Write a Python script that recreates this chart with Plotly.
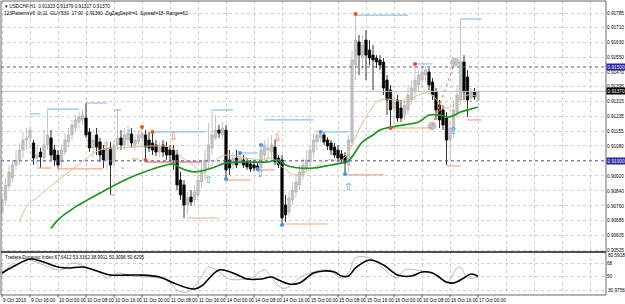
import plotly.graph_objects as go

# ---------------- data (USDCHF H1) ----------------
open_ = [0.90728,0.90792,0.90866,0.90909,0.90978,0.91005,0.91058,0.91111,0.91122,0.91095,
         0.91015,0.91047,0.91015,0.91085,0.91122,0.91058,0.91031,0.90994,0.91047,0.91101,
         0.91138,0.91175,0.91207,0.91218,0.91228,0.91154,0.91069,0.91138,0.91101,0.91058,
         0.91005,0.91069,0.90994,0.91085,0.91122,0.91085,0.91111,0.91143,0.91085,0.91101,
         0.91122,0.91138,0.91111,0.91095,0.91085,0.91047,0.91085,0.91074,0.91058,0.91058,
         0.91031,0.90898,0.90872,0.90765,0.90808,0.90792,0.90819,0.90888,0.90941,0.90994,
         0.91069,0.91122,0.91164,0.91138,0.91164,0.91005,0.90978,0.91015,0.90989,0.91005,
         0.90994,0.90984,0.90978,0.90973,0.90962,0.91031,0.91058,0.91047,0.91074,0.91015,
         0.91005,0.90765,0.90728,0.90792,0.90835,0.90872,0.90925,0.90962,0.90994,0.91047,
         0.91101,0.91122,0.91138,0.91111,0.91095,0.91074,0.91058,0.91037,0.91026,0.90978,
         0.91101,0.91510,0.91633,0.91547,0.91643,0.91590,0.91563,0.91547,0.91537,0.91526,
         0.91430,0.91377,0.91281,0.91324,0.91281,0.91244,0.91271,0.91324,0.91367,0.91404,
         0.91430,0.91457,0.91473,0.91420,0.91367,0.91297,0.91271,0.91228,0.91111,0.91164,
         0.91260,0.91324,0.91526,0.91446,0.91335,0.91367,0.91323]
high = [0.90813,0.90909,0.90978,0.91005,0.91058,0.91095,0.91154,0.91175,0.91186,0.91111,
        0.91085,0.91069,0.91164,0.91276,0.91164,0.91085,0.91058,0.91085,0.91148,0.91175,
        0.91218,0.91244,0.91260,0.91271,0.91308,0.91175,0.91138,0.91175,0.91122,0.91085,
        0.91111,0.91101,0.91111,0.91271,0.91164,0.91175,0.91191,0.91175,0.91138,0.91164,
        0.91180,0.91164,0.91154,0.91154,0.91111,0.91101,0.91111,0.91101,0.91085,0.91085,
        0.91058,0.90941,0.90898,0.90835,0.90845,0.90872,0.90952,0.91005,0.91058,0.91202,
        0.91271,0.91244,0.91191,0.91207,0.91191,0.91058,0.91047,0.91058,0.91042,0.91031,
        0.91015,0.91005,0.91005,0.90994,0.91085,0.91111,0.91122,0.91138,0.91111,0.91031,
        0.91031,0.90819,0.90835,0.90888,0.90925,0.90978,0.91015,0.91058,0.91085,0.91148,
        0.91164,0.91154,0.91154,0.91127,0.91111,0.91095,0.91085,0.91058,0.91047,0.91138,
        0.91590,0.91782,0.91670,0.91670,0.91696,0.91643,0.91617,0.91563,0.91563,0.91547,
        0.91457,0.91404,0.91351,0.91351,0.91324,0.91335,0.91404,0.91430,0.91516,0.91484,
        0.91505,0.91505,0.91494,0.91441,0.91388,0.91324,0.91297,0.91260,0.91218,0.91324,
        0.91404,0.91755,0.91563,0.91484,0.91388,0.91388,0.91379]
low = [0.90696,0.90760,0.90845,0.90888,0.90952,0.90978,0.91015,0.91058,0.91069,0.90978,
       0.90973,0.90962,0.90989,0.91058,0.91005,0.90973,0.90957,0.90962,0.91031,0.91069,
       0.91111,0.91154,0.91175,0.91191,0.91122,0.91047,0.91015,0.91031,0.90994,0.90962,
       0.90952,0.90819,0.90962,0.91058,0.91058,0.91058,0.91085,0.91069,0.91058,0.91085,
       0.91085,0.91005,0.91047,0.91031,0.91026,0.91021,0.91021,0.91005,0.90994,0.90952,
       0.90845,0.90792,0.90696,0.90718,0.90760,0.90765,0.90792,0.90856,0.90898,0.90962,
       0.91031,0.91111,0.91122,0.91111,0.90904,0.90925,0.90952,0.90962,0.90968,0.90962,
       0.90952,0.90941,0.90946,0.90957,0.90952,0.91005,0.91005,0.91005,0.90978,0.90962,
       0.90659,0.90675,0.90702,0.90765,0.90803,0.90845,0.90898,0.90941,0.90962,0.91015,
       0.91058,0.91101,0.91085,0.91058,0.91031,0.91015,0.90994,0.90984,0.90930,0.90941,
       0.91085,0.91430,0.91457,0.91484,0.91430,0.91510,0.91377,0.91494,0.91484,0.91351,
       0.91244,0.91175,0.91191,0.91207,0.91207,0.91218,0.91244,0.91297,0.91324,0.91367,
       0.91388,0.91420,0.91377,0.91324,0.91218,0.91175,0.91164,0.90978,0.90994,0.91122,
       0.91228,0.91297,0.91324,0.91234,0.91313,0.91324,0.91317]
close = [0.90792,0.90872,0.90941,0.90978,0.91005,0.91058,0.91111,0.91122,0.91164,0.91015,
         0.91031,0.91021,0.91085,0.91138,0.91031,0.91005,0.90978,0.91058,0.91111,0.91138,
         0.91191,0.91218,0.91234,0.91244,0.91138,0.91069,0.91111,0.91074,0.91031,0.91005,
         0.91058,0.90978,0.91085,0.91122,0.91085,0.91138,0.91148,0.91095,0.91111,0.91138,
         0.91148,0.91074,0.91069,0.91058,0.91047,0.91074,0.91047,0.91031,0.91031,0.91005,
         0.90872,0.90819,0.90765,0.90803,0.90781,0.90835,0.90898,0.90952,0.91005,0.91085,
         0.91138,0.91164,0.91148,0.91175,0.90952,0.90962,0.91015,0.90978,0.91015,0.90978,
         0.90968,0.90957,0.90962,0.90962,0.91058,0.91085,0.91069,0.91085,0.90994,0.90978,
         0.90696,0.90712,0.90803,0.90845,0.90888,0.90941,0.90978,0.91005,0.91058,0.91111,
         0.91138,0.91143,0.91101,0.91079,0.91058,0.91031,0.91015,0.91005,0.90989,0.91111,
         0.91537,0.91643,0.91563,0.91617,0.91563,0.91547,0.91537,0.91526,0.91510,0.91388,
         0.91324,0.91271,0.91313,0.91228,0.91228,0.91297,0.91351,0.91388,0.91430,0.91457,
         0.91473,0.91484,0.91404,0.91351,0.91271,0.91218,0.91191,0.91111,0.91175,0.91271,
         0.91351,0.91526,0.91367,0.91324,0.91367,0.91340,0.91370]
bars = list(range(len(close)))

# moving averages (sampled)
tan_x = [5, 7, 11, 15, 21, 28, 34, 42, 48, 50, 52, 55, 57, 59, 61, 64, 68, 74, 77, 80, 84,
         89, 93, 97, 99, 103, 108, 112, 115, 119, 122, 125, 127, 129, 131, 134, 136]
tan_ma = [0.90675, 0.90755, 0.90819, 0.90882, 0.90968, 0.91058, 0.91069, 0.91079, 0.91074,
          0.91047, 0.91010, 0.90970, 0.90945, 0.90960, 0.91005, 0.91031, 0.91021, 0.91005,
          0.91015, 0.90968, 0.90925, 0.90962, 0.91005, 0.91005, 0.91047, 0.91202, 0.91324,
          0.91324, 0.91313, 0.91351, 0.91361, 0.91308, 0.91281, 0.91297, 0.91340, 0.91351,
          0.91340]
green_x = [14, 16, 21, 28, 37, 47, 49, 51, 55, 60, 64, 70, 76, 79, 81, 85, 89, 94, 97, 99,
           103, 106, 108, 113, 119, 122, 125, 128, 131, 134, 136]
green_ma = [0.90640, 0.90686, 0.90755, 0.90829, 0.90914, 0.90978, 0.90984, 0.90962, 0.90941,
            0.90962, 0.90989, 0.90994, 0.90994, 0.91005, 0.90978, 0.90962, 0.90962, 0.90978,
            0.90989, 0.91000, 0.91101, 0.91138, 0.91164, 0.91186, 0.91207, 0.91244, 0.91244,
            0.91234, 0.91260, 0.91276, 0.91287]

# swing levels (start bar, end bar, price)
hi_start = [8, 13, 24, 32, 36, 43, 60, 68, 75, 91, 101, 118, 131]
hi_end = [11, 22, 30, 34, 37, 58, 66, 73, 89, 99, 116, 123, 137]
hi_price = [0.91250, 0.91276, 0.91308, 0.91271, 0.91164, 0.91154, 0.91271, 0.91042, 0.91218,
            0.91154, 0.91776, 0.91516, 0.91755]
lo_start = [10, 16, 31, 34, 37, 53, 64, 73, 80, 98, 111, 127, 133]
lo_end = [14, 29, 32, 35, 39, 62, 71, 78, 93, 109, 123, 131, 137]
lo_price = [0.90962, 0.90957, 0.90819, 0.90962, 0.91010, 0.90696, 0.90898, 0.90952, 0.90664,
            0.90925, 0.91175, 0.90973, 0.91218]
red_line_bars = [41, 57]
red_line_price = 0.90994

red_dot_x = [40, 41, 43, 101, 111, 118]
red_dot_y = [0.91180, 0.91005, 0.91154, 0.91782, 0.91175, 0.91516]
blue_dot_x = [64, 68, 73, 74, 80, 91, 98]
blue_dot_y = [0.90904, 0.91042, 0.90957, 0.91085, 0.90659, 0.91154, 0.90930]
up_arrow_x = [58.9, 73.7, 98.9, 128.9]
up_arrow_y = [0.90898, 0.90925, 0.90856, 0.91159]
down_arrow_x = [29.7, 48.9, 78.6, 124.6]
down_arrow_y = [0.91069, 0.91122, 0.91117, 0.91271]
zig_x = [122.9, 129.4]
zig_y = [0.91186, 0.91526]

# Traders Dynamic Index
tdi_sig_x = [0, 3, 8, 11, 16, 19, 23, 28, 31, 39, 45, 49, 53, 55, 57, 62, 66, 70, 74, 77, 79,
             82, 85, 89, 92, 95, 97, 99, 101, 105, 109, 113, 117, 120, 123, 127, 129, 132, 134, 136]
tdi_sig = [55.0, 63.0, 73.8, 71.1, 63.0, 61.7, 63.0, 56.3, 52.3, 52.3, 49.6, 41.5, 34.8, 33.5,
           37.5, 59.0, 55.0, 46.9, 46.9, 49.6, 45.6, 40.2, 41.5, 55.0, 57.7, 56.3, 50.9, 50.9,
           61.7, 72.4, 65.7, 52.3, 50.9, 56.3, 55.0, 42.9, 41.5, 48.3, 53.6, 50.6]
tdi_rsi_x = [0, 3, 5, 8, 12, 17, 20, 24, 28, 30, 33, 37, 47, 50, 53, 57, 59, 62, 65, 71, 75,
             77, 80, 82, 85, 89, 93, 97, 99, 101, 104, 107, 110, 113, 115, 120, 124, 127, 130,
             131, 133, 136]
tdi_rsi = [52.0, 68.4, 75.1, 72.4, 65.7, 59.0, 68.4, 63.0, 55.0, 48.3, 55.0, 50.9, 45.6, 32.1,
           29.4, 49.6, 63.0, 56.3, 46.9, 48.3, 59.0, 48.3, 34.8, 36.2, 48.3, 56.3, 59.0, 48.3,
           55.0, 75.1, 76.5, 69.8, 56.3, 48.3, 59.0, 57.7, 52.3, 41.5, 61.7, 63.0, 48.3, 50.3]
tdi_levels = [68, 50, 32]

price_ticks = [0.91785, 0.91710, 0.91630, 0.91550, 0.91470, 0.91395, 0.91315, 0.91235,
               0.91155, 0.91080, 0.91000, 0.90920, 0.90840, 0.90760, 0.90685, 0.90605, 0.90525]
time_labels = ["9 Oct 2013", "9 Oct 16:00", "10 Oct 00:00", "10 Oct 08:00", "10 Oct 16:00",
               "11 Oct 00:00", "11 Oct 08:00", "11 Oct 16:00", "14 Oct 00:00", "14 Oct 08:00",
               "14 Oct 16:00", "15 Oct 00:00", "15 Oct 08:00", "15 Oct 16:00", "16 Oct 00:00",
               "16 Oct 08:00", "16 Oct 16:00", "17 Oct 00:00"]
label_step = 8
grid_bars = list(range(0, 173, 8))
bid_price = 0.91370
marked_levels = [0.91500, 0.91000]

FONT = "Liberation Sans, Arial, sans-serif"
FS = 4.7

fig = go.Figure()

fig.add_trace(go.Candlestick(
    x=bars, open=open_, high=high, low=low, close=close,
    increasing=dict(line=dict(color="#b8b8b8", width=0.8), fillcolor="#c4c4c4"),
    decreasing=dict(line=dict(color="#000000", width=0.8), fillcolor="#000000"),
    whiskerwidth=0, hoverinfo="skip", showlegend=False, xaxis="x", yaxis="y"))

def seg_xy(starts, ends, prices):
    xs, ys = [], []
    for s, e, p in zip(starts, ends, prices):
        xs += [s, e, None]
        ys += [p, p, None]
    return xs, ys

hx, hy = seg_xy(hi_start, hi_end, hi_price)
fig.add_trace(go.Scatter(x=hx, y=hy, mode="lines", line=dict(color="#8cc0f0", width=1.2),
                         hoverinfo="skip", xaxis="x", yaxis="y"))
lx, ly = seg_xy(lo_start, lo_end, lo_price)
fig.add_trace(go.Scatter(x=lx, y=ly, mode="lines", line=dict(color="#f4a582", width=1.2),
                         hoverinfo="skip", xaxis="x", yaxis="y"))
fig.add_trace(go.Scatter(x=red_line_bars, y=[red_line_price] * 2, mode="lines",
                         line=dict(color="#c8553a", width=1.2), hoverinfo="skip",
                         xaxis="x", yaxis="y"))

fig.add_trace(go.Scatter(x=tan_x, y=tan_ma, mode="lines", line=dict(color="#dcbc8c", width=1,
                         shape="spline"), hoverinfo="skip", xaxis="x", yaxis="y"))
fig.add_trace(go.Scatter(x=green_x, y=green_ma, mode="lines", line=dict(color="#18961e", width=1.7,
                         shape="spline"), hoverinfo="skip", xaxis="x", yaxis="y"))

fig.add_trace(go.Scatter(x=zig_x, y=zig_y, mode="lines+markers",
                         line=dict(color="#f07070", width=1, dash="dot"),
                         marker=dict(size=9, color="rgba(150,150,150,0.55)"),
                         hoverinfo="skip", xaxis="x", yaxis="y"))
fig.add_trace(go.Scatter(x=red_dot_x, y=red_dot_y, mode="markers",
                         marker=dict(size=4, color="#ff4a1a"), hoverinfo="skip",
                         xaxis="x", yaxis="y"))
fig.add_trace(go.Scatter(x=blue_dot_x, y=blue_dot_y, mode="markers",
                         marker=dict(size=4, color="#3c96f0"), hoverinfo="skip",
                         xaxis="x", yaxis="y"))
fig.add_trace(go.Scatter(x=up_arrow_x, y=up_arrow_y, mode="text", text=["⇧"] * len(up_arrow_x),
                         textfont=dict(size=10, color="#3c96f0", family="DejaVu Sans"),
                         hoverinfo="skip", xaxis="x", yaxis="y"))
fig.add_trace(go.Scatter(x=down_arrow_x, y=down_arrow_y, mode="text",
                         text=["⇩"] * len(down_arrow_x),
                         textfont=dict(size=10, color="#f06a40", family="DejaVu Sans"),
                         hoverinfo="skip", xaxis="x", yaxis="y"))

# TDI panel
fig.add_trace(go.Scatter(x=tdi_rsi_x, y=tdi_rsi, mode="lines",
                         line=dict(color="#b8b8b8", width=1, shape="spline"),
                         hoverinfo="skip", xaxis="x2", yaxis="y2"))
fig.add_trace(go.Scatter(x=tdi_sig_x, y=tdi_sig, mode="lines",
                         line=dict(color="#000000", width=1.6, shape="spline"),
                         hoverinfo="skip", xaxis="x2", yaxis="y2"))

split = 43 / 294.0
xr = [-0.29, 172.57]
grid = dict(showgrid=True, gridcolor="#cfcfcf", griddash="dot", gridwidth=1, zeroline=False)
fig.update_layout(
    width=625, height=304, margin=dict(l=1, r=19, t=1, b=9),
    paper_bgcolor="white", plot_bgcolor="white", showlegend=False,
    boxgap=0.05,
    font=dict(family=FONT, size=FS, color="black"),
    xaxis=dict(domain=[0, 1], anchor="y", range=xr, tickvals=grid_bars, showticklabels=False,
               ticks="", rangeslider=dict(visible=False), **grid),
    xaxis2=dict(domain=[0, 1], anchor="y2", range=xr, tickvals=grid_bars, showticklabels=False,
                ticks="", matches="x", **grid),
    yaxis=dict(domain=[split, 1], anchor="x", range=[0.90515, 0.91851], side="right",
               tickvals=price_ticks, ticktext=["%.5f" % v for v in price_ticks],
               tickfont=dict(size=FS, family=FONT), ticks="", **grid),
    yaxis2=dict(domain=[0, split], anchor="x2", range=[25.4, 83.2], side="right",
                tickvals=tdi_levels, ticktext=["68", "50", ""],
                tickfont=dict(size=FS, family=FONT), ticks="", **grid),
)

shapes = []
for p in marked_levels:
    shapes.append(dict(type="line", xref="x", yref="y", x0=xr[0], x1=xr[1], y0=p, y1=p,
                       line=dict(color="#5a5aa0", width=1, dash="dot")))
shapes.append(dict(type="line", xref="x", yref="y", x0=xr[0], x1=xr[1], y0=bid_price,
                   y1=bid_price, line=dict(color="#c0c0c0", width=1)))
shapes.append(dict(type="rect", xref="paper", yref="paper", x0=0, x1=1, y0=split, y1=1,
                   line=dict(color="#6a6a6a", width=1)))
shapes.append(dict(type="rect", xref="paper", yref="paper", x0=0, x1=1, y0=0, y1=split,
                   line=dict(color="#6a6a6a", width=1)))
shapes.append(dict(type="line", xref="paper", yref="paper", x0=0, x1=1, y0=split, y1=split,
                   line=dict(color="#505050", width=2)))
for k in range(len(time_labels)):
    b = k * label_step
    shapes.append(dict(type="line", xref="x2", yref="paper", x0=b, x1=b, y0=0, y1=-0.008,
                       line=dict(color="#505050", width=1)))
fig.update_layout(shapes=shapes)

ann = []
for k, t in enumerate(time_labels):
    ann.append(dict(x=k * label_step, y=0, xref="x2", yref="paper", text=t, showarrow=False,
                    xanchor="left", yanchor="top", yshift=-1, xshift=-1,
                    font=dict(size=FS, family=FONT, color="black")))
for p, bg in [(0.91500, "#23239a"), (0.91000, "#23239a"), (bid_price, "#000000")]:
    ann.append(dict(x=1, y=p, xref="paper", yref="y", text="%.5f" % p, showarrow=False,
                    xanchor="left", yanchor="middle", bgcolor=bg, borderpad=0.6,
                    font=dict(size=FS, color="white", family=FONT)))
ann.append(dict(x=1, y=1, xref="paper", yref="paper", text="80.5918", showarrow=False,
                xanchor="left", yanchor="top", yshift=-250,
                font=dict(size=FS, family=FONT)))
ann.append(dict(x=1, y=0, xref="paper", yref="paper", text="30.9756", showarrow=False,
                xanchor="left", yanchor="bottom", font=dict(size=FS, family=FONT)))
ann.append(dict(x=0.004, y=1, xref="paper", yref="paper",
                text="▾ USDCHF,H1  0.91323 0.91379 0.91317 0.91370", showarrow=False,
                xanchor="left", yanchor="top", yshift=-1, font=dict(size=FS, family=FONT)))
ann.append(dict(x=0.002, y=1, xref="paper", yref="paper",
                text="123PatternsV6  0t:11  GL/Y530  17:00  0.91360  ZigZagDepth=1  Spread=18  Range=62",
                showarrow=False, xanchor="left", yanchor="top", yshift=-8,
                font=dict(size=FS, family=FONT)))
ann.append(dict(x=0.004, y=split, xref="paper", yref="paper",
                text="Traders Dynamic Index 67.6412 53.3162 38.9911 50.3096 50.6295",
                showarrow=False, xanchor="left", yanchor="top", yshift=-1,
                font=dict(size=FS, family=FONT)))
fig.update_layout(annotations=ann)

fig.write_html("out.html")
